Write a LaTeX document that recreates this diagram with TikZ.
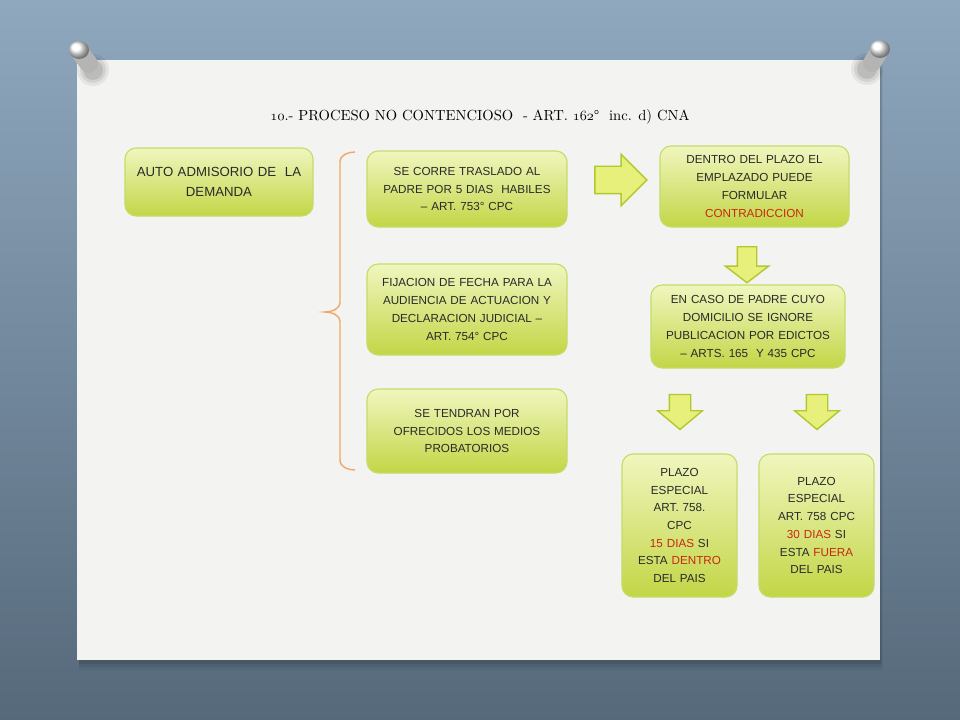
\documentclass[tikz,border=0pt]{standalone}
\usepackage{fontspec}
\newfontfamily\boxfont{Liberation Sans}
\usetikzlibrary{positioning,shapes.arrows}

\newcommand\osnum[1]{{\fontencoding{OML}\fontfamily{cmm}\fontseries{m}\fontshape{it}\selectfont #1}}

\definecolor{wallTop}{HTML}{8FA8BE}
\definecolor{wallBot}{HTML}{56697B}
\definecolor{paper}{HTML}{F3F3F1}
\definecolor{boxTop}{HTML}{F0F6BE}
\definecolor{boxBot}{HTML}{C2D646}
\definecolor{boxLine}{HTML}{C6DC6A}
\definecolor{arrFill}{HTML}{E6F07A}
\definecolor{arrLine}{HTML}{B2C82E}
\definecolor{txt}{HTML}{2A2A2A}
\definecolor{hot}{HTML}{C8290E}
\definecolor{braceCol}{HTML}{F0A868}
\definecolor{pinGray}{HTML}{B4B4B4}

\tikzset{
  stepbox/.style={draw=boxLine, line width=0.8pt, rounded corners=0.28cm,
    top color=boxTop, bottom color=boxBot, align=center, inner sep=0pt,
    text=txt, font=\boxfont\fontsize{8.3}{12.6}\selectfont},
  bigarrow/.style={single arrow, draw=arrLine, fill=arrFill, line width=1pt,
    inner xsep=0pt},
  hot/.style={text=hot}
}

\begin{document}
\begin{tikzpicture}[x=0.025cm, y=-0.025cm]
      \useasboundingbox (0,0) rectangle (960,720);
      % wall and paper
      \shade [top color=wallTop, bottom color=wallBot] (0,0) rectangle (960,720);
      \foreach \d/\o in {10/0.05, 7/0.07, 4/0.09} {
        \fill [black, opacity=\o] (79,60+\d) rectangle (880+\d/3,660+\d);
      }
      \fill [paper] (77,60) rectangle (880,660);
      % pins
      \foreach \r/\o in {16/0.06, 13/0.08, 10/0.10} {
        \fill [black, opacity=\o] (93,70) circle (\r);
        \fill [black, opacity=\o] (867,69) circle (\r);
      }
      \draw [pinGray, line width=0.45cm, line cap=round] (79,51) -- (89,64);
      \shade [ball color=white] (79,50) ellipse (10 and 9);
      \draw [pinGray, line width=0.45cm, line cap=round] (880,50) -- (872,63);
      \shade [ball color=white] (880,49) ellipse (10 and 9);

      \node (title) at (480,117) {\fontsize{10.4}{13}\selectfont
        \osnum{10}.- PROCESO NO CONTENCIOSO \ - ART. \osnum{162}°\ \ inc. d) CNA};

      \node [stepbox, minimum width=4.7cm, minimum height=1.7cm, text width=4.4cm,
             font=\boxfont\fontsize{9.4}{13.8}\selectfont] (auto) at (219,182)
            {AUTO ADMISORIO DE \ LA\\DEMANDA};

      \node [stepbox, minimum width=5.0cm, minimum height=1.9cm, text width=4.8cm] (trasl) at (467,189)
            {SE CORRE TRASLADO AL\\PADRE POR 5 DIAS \ HABILES\\– ART. 753° CPC};
      \node [stepbox, minimum width=5.0cm, minimum height=2.275cm, text width=4.8cm] (fecha) at (467,309.5)
            {FIJACION DE FECHA PARA LA\\AUDIENCIA DE ACTUACION Y\\DECLARACION JUDICIAL –\\ART. 754° CPC};
      \node [stepbox, minimum width=5.0cm, minimum height=2.1cm, text width=4.8cm] (medios) at (467,431)
            {SE TENDRAN POR\\OFRECIDOS LOS MEDIOS\\PROBATORIOS};

      \node [stepbox, minimum width=4.725cm, minimum height=2.025cm, text width=4.5cm] (contra) at (754.5,186.5)
            {DENTRO DEL PLAZO EL\\EMPLAZADO PUEDE\\FORMULAR\\\textcolor{hot}{CONTRADICCION}};
      \node [stepbox, minimum width=4.85cm, minimum height=2.075cm, text width=4.7cm] (edicto) at (748,326.5)
            {EN CASO DE PADRE CUYO\\DOMICILIO SE IGNORE\\PUBLICACION POR EDICTOS\\– ARTS. 165 \ Y 435 CPC};

      \node [stepbox, minimum width=2.875cm, minimum height=3.575cm, text width=2.7cm] (dentro) at (679.5,525.5)
            {PLAZO\\ESPECIAL\\ART. 758.\\CPC\\\textcolor{hot}{15 DIAS} SI\\ESTA \textcolor{hot}{DENTRO}\\DEL PAIS};
      \node [stepbox, minimum width=2.875cm, minimum height=3.575cm, text width=2.7cm] (fuera) at (816.5,525.5)
            {PLAZO\\ESPECIAL\\ART. 758 CPC\\\textcolor{hot}{30 DIAS} SI\\ESTA \textcolor{hot}{FUERA}\\DEL PAIS};

      % block arrows
      \node [bigarrow, inner ysep=0.325cm, minimum height=1.3cm, single arrow head extend=0.3cm] (ar1) at (614,180) {};
      \node [bigarrow, rotate=-90, inner ysep=0.225cm, minimum height=0.9cm, single arrow head extend=0.3cm,
             single arrow tip angle=105] (ar2) at (747,261) {};
      \node [bigarrow, rotate=-90, inner ysep=0.25cm, minimum height=0.875cm, single arrow head extend=0.29cm,
             single arrow tip angle=100] (ar3) at (680,407.5) {};
      \node [bigarrow, rotate=-90, inner ysep=0.25cm, minimum height=0.875cm, single arrow head extend=0.29cm,
             single arrow tip angle=100] (ar4) at (817,407.5) {};

      % brace
      \coordinate (bt) at (355,152);
      \coordinate (bm) at (325,312);
      \coordinate (bb) at (355,470);
      \draw [braceCol, line width=1pt] (bt) to[out=180, in=90] (340,162) -- (340,302)
            to[out=-90, in=0] (bm) to[out=0, in=90] (340,322) -- (340,460) to[out=-90, in=180] (bb);
\end{tikzpicture}
\end{document}
